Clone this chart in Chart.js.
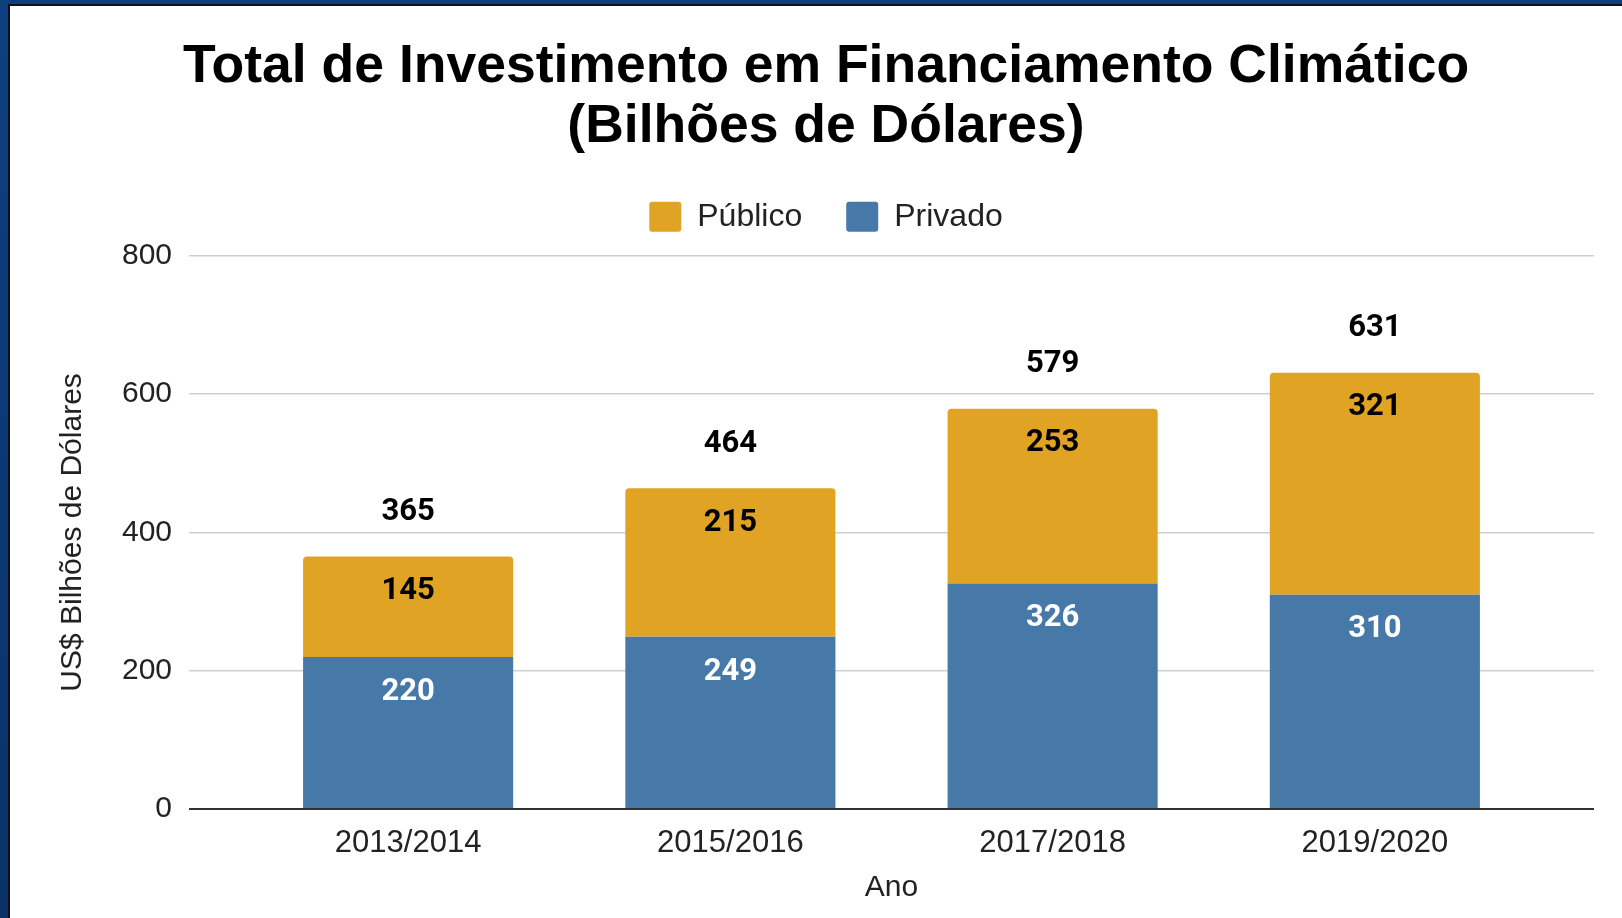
<!DOCTYPE html>
<html lang="pt">
<head>
<meta charset="utf-8">
<title>Total de Investimento em Financiamento Climático</title>
<script src="https://cdn.jsdelivr.net/npm/chart.js@4.4.1/dist/chart.umd.min.js"></script>
<style>
  html, body { margin: 0; height: 100%; overflow: hidden; }
  body { background: linear-gradient(180deg, #0d3f82 0%, #0a3268 100%); }
  .frame { position: absolute; left: 8px; top: 4px; width: 1640px; height: 940px;
           border-left: 2px solid #111; border-top: 2px solid #111; background: #fff; }
  .wrap { position: absolute; left: 0; top: 0; width: 1612px; height: 912px; }
</style>
</head>
<body>
<div class="frame"><div class="wrap"><canvas id="myChart"></canvas></div></div>
<script>
//dados
const anos = ['2013/2014', '2015/2016', '2017/2018', '2019/2020'];
const privado = [220, 249, 326, 310];
const publico = [145, 215, 253, 321];
const totais = [365, 464, 579, 631];
const yTicks = [0, 200, 400, 600, 800];

const corPrivado = '#4779a8';
const corPublico = '#e1a324';
const corRotulo = ['#ffffff', '#000000'];

Chart.defaults.font.family = '"Liberation Sans", Arial, sans-serif';
Chart.defaults.color = '#222';

//rotulos dentro das barras e total em cima
const rotulos = {
    id: 'rotulos',
    afterDatasetsDraw(chart) {
        const ctx = chart.ctx;
        ctx.save();
        ctx.font = 'bold 31px Roboto';
        ctx.textAlign = 'center';
        ctx.textBaseline = 'middle';
        chart.data.datasets.forEach((ds, d) => {
            ctx.fillStyle = corRotulo[d];
            chart.getDatasetMeta(d).data.forEach((bar, i) => {
                ctx.fillText(ds.data[i].y, bar.x, bar.y + 35);
            });
        });
        ctx.fillStyle = '#000';
        chart.getDatasetMeta(1).data.forEach((bar, i) => {
            ctx.fillText(totais[i], bar.x, bar.y - 44);
        });
        ctx.restore();
    }
};

const ctx = document.getElementById('myChart');

new Chart(ctx, {
    type: 'bar',
    data: {
        datasets: [{
            label: 'Privado',
            data: privado.map((v, i) => ({x: i, y: v})),
            backgroundColor: corPrivado,
            barPercentage: 0.652,
            categoryPercentage: 1,
            borderRadius: 0
        }, {
            label: 'Público',
            data: publico.map((v, i) => ({x: i, y: v})),
            backgroundColor: corPublico,
            barPercentage: 0.652,
            categoryPercentage: 1,
            borderRadius: {topLeft: 4, topRight: 4, bottomLeft: 0, bottomRight: 0}
        }]
    },
    options: {
        responsive: true,
        maintainAspectRatio: false,
        animation: false,
        layout: { padding: {left: 48, right: 28, top: 0, bottom: 0} },
        plugins: {
            title: {
                display: true,
                text: ['Total de Investimento em Financiamento Climático', '(Bilhões de Dólares)'],
                color: '#000',
                font: {size: 53.5, weight: 'bold', lineHeight: 1.12},
                padding: {top: 31, bottom: 0}
            },
            //espaco entre a legenda e o grafico
            subtitle: {
                display: true,
                text: '',
                weight: 500,
                padding: 0,
                font: {size: 13, lineHeight: 1}
            },
            legend: {
                position: 'top',
                reverse: true,
                labels: {
                    boxWidth: 32,
                    boxHeight: 30,
                    padding: 44,
                    useBorderRadius: true,
                    borderRadius: 3,
                    color: '#222',
                    font: {size: 32}
                }
            },
            tooltip: { enabled: false }
        },
        scales: {
            x: {
                type: 'linear',
                offset: false,
                stacked: true,
                min: -0.68,
                max: 3.68,
                afterBuildTicks: (s) => { s.ticks = anos.map((a, i) => ({value: i})); },
                afterFit: (s) => { s.height = 109; },
                ticks: {
                    callback: (v) => anos[v],
                    autoSkip: false,
                    maxRotation: 0,
                    padding: 8,
                    color: '#222',
                    font: {size: 31}
                },
                grid: { display: false },
                border: { display: false },
                title: {
                    display: true,
                    text: 'Ano',
                    color: '#222',
                    font: {size: 30},
                    padding: {top: 0, bottom: 12}
                }
            },
            y: {
                stacked: true,
                min: 0,
                max: 800,
                afterBuildTicks: (s) => { s.ticks = yTicks.map(v => ({value: v})); },
                afterFit: (s) => { s.width = 131; },
                ticks: {
                    padding: 17,
                    color: '#222',
                    font: {size: 30}
                },
                grid: {
                    drawTicks: false,
                    color: (c) => c.tick.value === 0 ? '#333' : '#cfcfcf',
                    lineWidth: (c) => c.tick.value === 0 ? 2 : 1.5
                },
                border: { display: false },
                title: {
                    display: true,
                    text: 'US$ Bilhões de Dólares',
                    color: '#222',
                    font: {size: 30},
                    padding: {top: -3, bottom: 0}
                }
            }
        }
    },
    plugins: [rotulos]
});
</script>
</body>
</html>
